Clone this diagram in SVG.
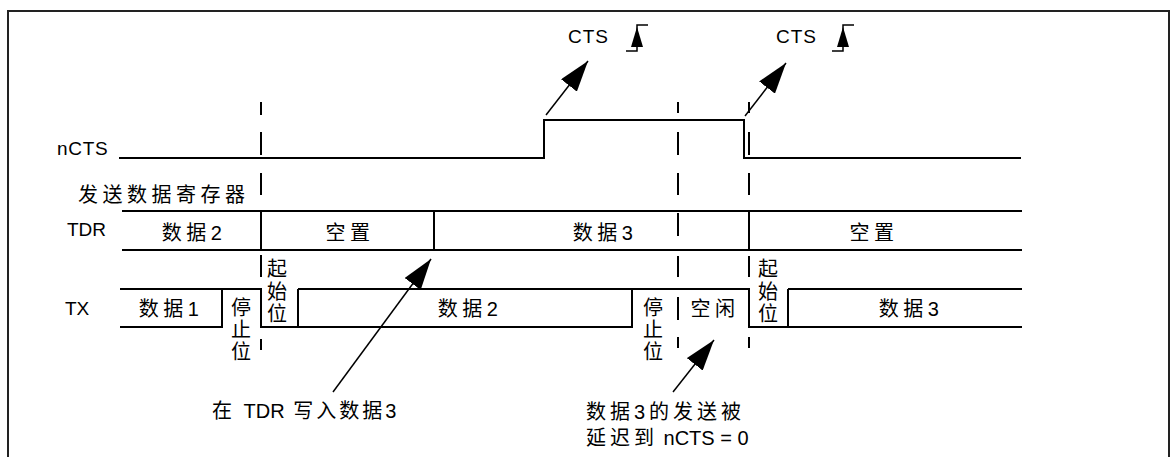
<svg xmlns="http://www.w3.org/2000/svg" width="1170" height="457" viewBox="0 0 1170 457">
<style>
.sig{fill:none;stroke:#000;stroke-width:2}
.dash{fill:none;stroke:#000;stroke-width:2}
.arr{fill:none;stroke:#000;stroke-width:1.5}
.lat{font-family:"Liberation Sans","Noto Sans CJK SC",sans-serif;font-size:19px;fill:#000}
.cjk{font-family:"Liberation Sans","Noto Sans CJK SC",sans-serif;font-size:20px;fill:#000;letter-spacing:4.5px}
.mid{text-anchor:middle}
.v{letter-spacing:0}
</style>
<defs>
<marker id="ah" markerUnits="userSpaceOnUse" markerWidth="32" markerHeight="20" refX="31" refY="10" orient="auto">
<path d="M0,0 L31,10 L0,20 z" fill="#000"/>
</marker>
</defs>
<rect width="1170" height="457" fill="#fff"/>
<g id="frame">
<path d="M8,457 V11 H1169 V457" fill="none" stroke="#222" stroke-width="2"/>
</g>
<g id="labels">
<text class="lat" x="57" y="155" style="letter-spacing:0.7px">nCTS</text>
<text class="cjk" x="78" y="202">发送数据寄存器</text>
<text class="lat" x="67" y="236">TDR</text>
<text class="lat" x="65" y="315">TX</text>
</g>
<g id="nCTS">
<path class="sig" d="M119,158 H544 V120 H744 V158 H1021"/>
</g>
<g id="cts-edge-1">
<text class="lat" x="568" y="43" style="letter-spacing:1px">CTS</text>
<path d="M626,51 H637 V25 H648" fill="none" stroke="#000" stroke-width="1.5"/>
<path d="M637,27 L631,47 L643,47 z" fill="#000"/>
</g>
<g id="cts-edge-2">
<text class="lat" x="776" y="43" style="letter-spacing:1px">CTS</text>
<path d="M832,51 H843 V25 H854" fill="none" stroke="#000" stroke-width="1.5"/>
<path d="M843,27 L837,47 L849,47 z" fill="#000"/>
</g>
<g id="TDR">
<path class="sig" d="M122,211 H1022 M122,250 H1022 M261,211 V250 M434,211 V250 M749,211 V250"/>
<text class="cjk mid" x="194" y="240">数据2</text>
<text class="cjk mid" x="350" y="240">空置</text>
<text class="cjk mid" x="605" y="240">数据3</text>
<text class="cjk mid" x="874" y="240">空置</text>
</g>
<g id="TX">
<path class="sig" d="M120,289 H222 V327 H120 M222,289 H261 V327 H298 V289 M298,289 H632 V327 H298 M632,289 H749 V327 H788 V289 M788,289 H1022 M788,327 H1022"/>
<text class="cjk mid" x="171" y="316">数据1</text>
<text class="cjk mid" x="470" y="316">数据2</text>
<text class="cjk mid" x="911" y="316">数据3</text>
<text class="cjk mid" x="715" y="316">空闲</text>
<text class="cjk mid v"><tspan x="241" y="315">停</tspan><tspan x="241" y="337">止</tspan><tspan x="241" y="359">位</tspan></text>
<text class="cjk mid v"><tspan x="277" y="276">起</tspan><tspan x="277" y="299">始</tspan><tspan x="277" y="321">位</tspan></text>
<text class="cjk mid v"><tspan x="653" y="315">停</tspan><tspan x="653" y="337">止</tspan><tspan x="653" y="359">位</tspan></text>
<text class="cjk mid v"><tspan x="768" y="276">起</tspan><tspan x="768" y="299">始</tspan><tspan x="768" y="321">位</tspan></text>
</g>
<g id="timing-marks">
<path class="dash" d="M261,102 V115 M261,132 V155 M261,173 V195 M261,255 V277 M261,339 V350
M678,102 V113 M678,132 V155 M678,173 V195 M678,213 V236 M678,256 V277 M678,297 V320 M678,337 V348
M749,102 V113 M749,132 V155 M749,173 V195 M749,256 V277 M749,337 V348"/>
</g>
<g id="connectors">
<line class="arr" x1="546" y1="115" x2="588" y2="61" marker-end="url(#ah)"/>
<line class="arr" x1="745" y1="116" x2="786" y2="63" marker-end="url(#ah)"/>
<line class="arr" x1="333" y1="392" x2="431" y2="259" marker-end="url(#ah)"/>
<line class="arr" x1="673" y1="392" x2="714" y2="340" marker-end="url(#ah)"/>
</g>
<g id="notes">
<text class="cjk" x="212" y="418"><tspan style="letter-spacing:3px">在 </tspan><tspan style="letter-spacing:0">TDR</tspan><tspan style="letter-spacing:3px"> 写入数据3</tspan></text>
<text class="cjk" x="586" y="419" style="letter-spacing:4px">数据3的发送被</text>
<text class="cjk" x="586" y="445"><tspan style="letter-spacing:4px">延迟到</tspan><tspan style="letter-spacing:0"> nCTS = 0</tspan></text>
</g>
</svg>
